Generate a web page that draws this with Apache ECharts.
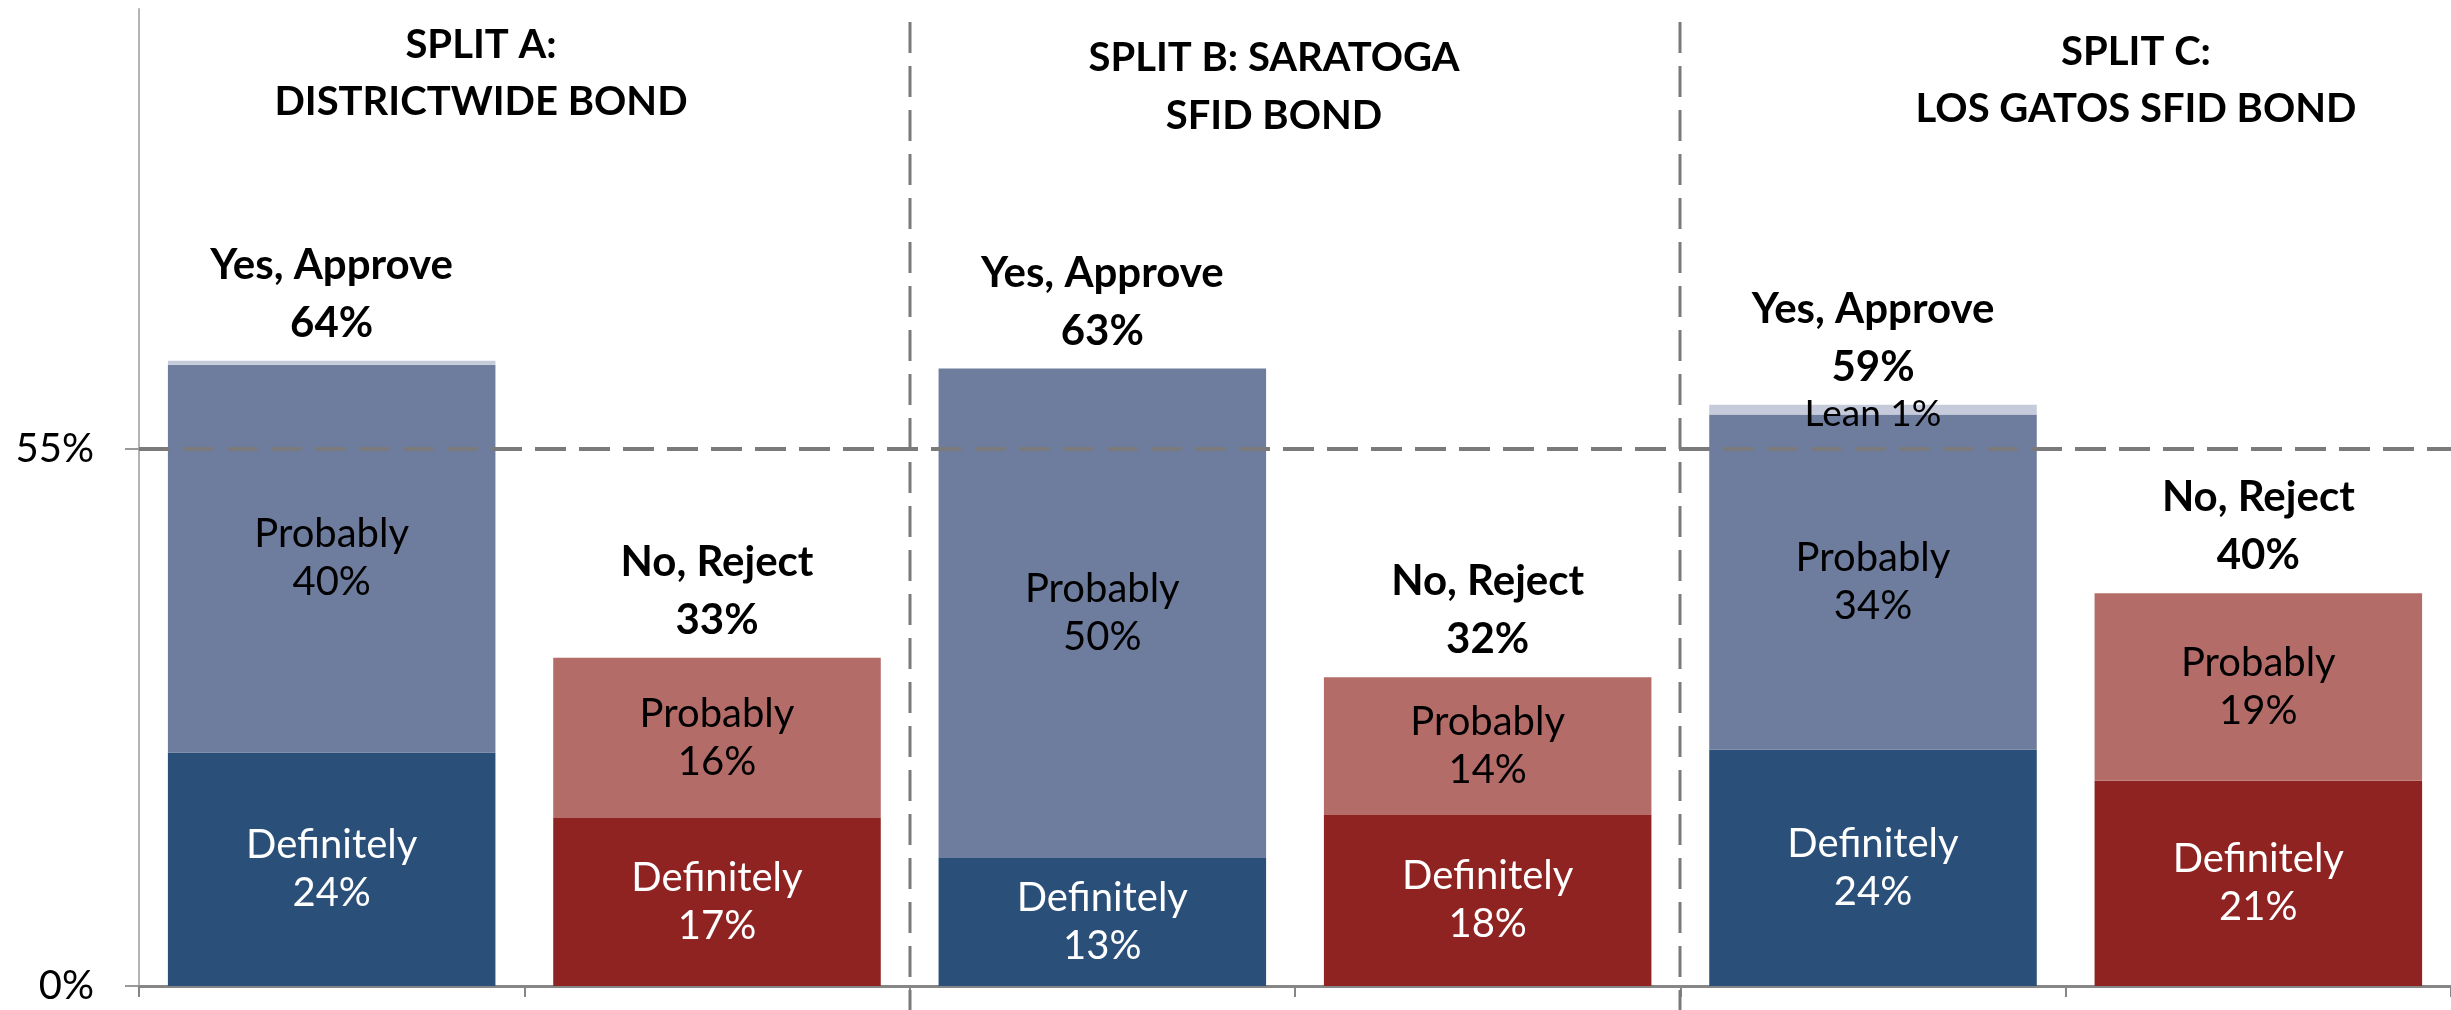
<!DOCTYPE html>
<html>
<head>
<meta charset="utf-8">
<script src="https://cdn.jsdelivr.net/npm/echarts@6/dist/echarts.min.js"></script>
<style>
  html, body { margin: 0; padding: 0; background: #ffffff; }
  #chart { width: 2451px; height: 1010px; }
</style>
</head>
<body>
<div id="chart"></div>
<script>
// ---- data ----
const categories = ['Split A Yes', 'Split A No', 'Split B Yes', 'Split B No', 'Split C Yes', 'Split C No'];
const definitely = [23.9, 17.2, 13.1, 17.5, 24.2, 21.0];
const probably   = [39.7, 16.4, 50.1, 14.1, 34.3, 19.2];
const lean       = [0.4, 0, 0, 0, 1.0, 0];

const definitelyLabels = ['24%', '17%', '13%', '18%', '24%', '21%'];
const probablyLabels   = ['40%', '16%', '50%', '14%', '34%', '19%'];
const leanLabels       = ['', '', '', '', 'Lean 1%', ''];
const totalNames       = ['Yes, Approve', 'No, Reject', 'Yes, Approve', 'No, Reject', 'Yes, Approve', 'No, Reject'];
const totalLabels      = ['64%', '33%', '63%', '32%', '59%', '40%'];

const splitTitles = ['SPLIT A:\nDISTRICTWIDE BOND', 'SPLIT B: SARATOGA\nSFID BOND', 'SPLIT C:\nLOS GATOS SFID BOND'];
const yTickValues = [0, 55];
const thresholdValue = 55;

// ---- styling ----
const FONT = 'Lato, "Liberation Sans", Arial, sans-serif';
const yesDef = '#2a4f78', noDef = '#8f2322';
const yesProb = '#6e7c9e', noProb = '#b46c69';
const leanColor = '#c5cbda';
const dashGray = '#7a7a7a';

const totals = categories.map((c, i) => +(definitely[i] + probably[i] + lean[i]).toFixed(2));

const chart = echarts.init(document.getElementById('chart'), null, { renderer: 'canvas' });

const option = {
  animation: false,
  backgroundColor: '#ffffff',
  title: [
    { text: splitTitles[0], left: 476, top: 12, textAlign: 'center',
      textStyle: { fontFamily: FONT, fontWeight: 'bold', fontSize: 40, lineHeight: 57, color: '#000' } },
    { text: splitTitles[1], left: 1269, top: 24, textAlign: 'center',
      textStyle: { fontFamily: FONT, fontWeight: 'bold', fontSize: 40, lineHeight: 58, color: '#000' } },
    { text: splitTitles[2], left: 2131, top: 19, textAlign: 'center',
      textStyle: { fontFamily: FONT, fontWeight: 'bold', fontSize: 40, lineHeight: 57, color: '#000' } }
  ],
  grid: { left: 139, right: 0, top: 9, bottom: 24, containLabel: false },
  xAxis: {
    type: 'category',
    data: categories,
    axisLine: { show: true, lineStyle: { color: '#868686', width: 3 } },
    axisTick: { show: true, length: 11, lineStyle: { color: '#868686', width: 2 } },
    axisLabel: { show: false },
    splitLine: { show: false }
  },
  yAxis: {
    type: 'value',
    min: 0,
    max: 100,
    interval: 5,
    axisLine: { show: true, lineStyle: { color: '#b5b5b5', width: 2 } },
    axisTick: { show: true, customValues: yTickValues, length: 14, lineStyle: { color: '#999999', width: 2 } },
    axisLabel: { show: true, customValues: yTickValues, formatter: '{value}%', margin: 45,
      fontFamily: FONT, fontSize: 40, color: '#000' },
    splitLine: { show: false }
  },
  series: [
    {
      name: 'Definitely', type: 'bar', stack: 'vote', barCategoryGap: '15%',
      data: definitely.map((v, i) => ({ value: v, itemStyle: { color: i % 2 === 0 ? yesDef : noDef } })),
      label: {
        show: true, position: 'inside', color: '#ffffff', fontFamily: FONT, fontSize: 40, lineHeight: 48,
        formatter: p => 'Definitely\n' + definitelyLabels[p.dataIndex]
      }
    },
    {
      name: 'Probably', type: 'bar', stack: 'vote', barCategoryGap: '15%',
      data: probably.map((v, i) => ({ value: v, itemStyle: { color: i % 2 === 0 ? yesProb : noProb } })),
      label: {
        show: true, position: 'inside', color: '#000000', fontFamily: FONT, fontSize: 40, lineHeight: 48,
        formatter: p => 'Probably\n' + probablyLabels[p.dataIndex]
      }
    },
    {
      name: 'Lean', type: 'bar', stack: 'vote', barCategoryGap: '15%',
      data: lean.map(v => ({ value: v, itemStyle: { color: leanColor } })),
      label: {
        show: true, position: 'inside', offset: [0, 4], color: '#000000', fontFamily: FONT, fontSize: 37,
        formatter: p => leanLabels[p.dataIndex]
      },
      z: 3,
      markLine: {
        silent: true, symbol: ['none', 'none'], z: 10,
        label: { show: false },
        lineStyle: { color: dashGray, width: 4, type: [31, 13] },
        data: [{ yAxis: thresholdValue }]
      }
    },
    {
      name: 'Total', type: 'scatter', symbol: 'circle', symbolSize: 1,
      itemStyle: { color: 'rgba(0,0,0,0)', opacity: 1 },
      data: totals,
      label: {
        show: true, position: 'top', distance: 8, color: '#000000', opacity: 1, fontFamily: FONT,
        fontWeight: 'bold', fontSize: 42, lineHeight: 58, align: 'center',
        formatter: p => totalNames[p.dataIndex] + '\n' + totalLabels[p.dataIndex]
      },
      z: 4
    }
  ]
};

chart.setOption(option);

// vertical dashed separators at the category boundaries between the splits
const c1 = chart.convertToPixel({ xAxisIndex: 0 }, categories[1]);
const c2 = chart.convertToPixel({ xAxisIndex: 0 }, categories[2]);
const c3 = chart.convertToPixel({ xAxisIndex: 0 }, categories[3]);
const c4 = chart.convertToPixel({ xAxisIndex: 0 }, categories[4]);
const sepX = [(c1 + c2) / 2, (c3 + c4) / 2];
chart.setOption({
  graphic: sepX.map(x => ({
    type: 'line', silent: true, z: 20,
    shape: { x1: Math.round(x), y1: 22, x2: Math.round(x), y2: 1010 },
    style: { stroke: dashGray, lineWidth: 3, lineDash: [31, 13] }
  }))
});
</script>
</body>
</html>
